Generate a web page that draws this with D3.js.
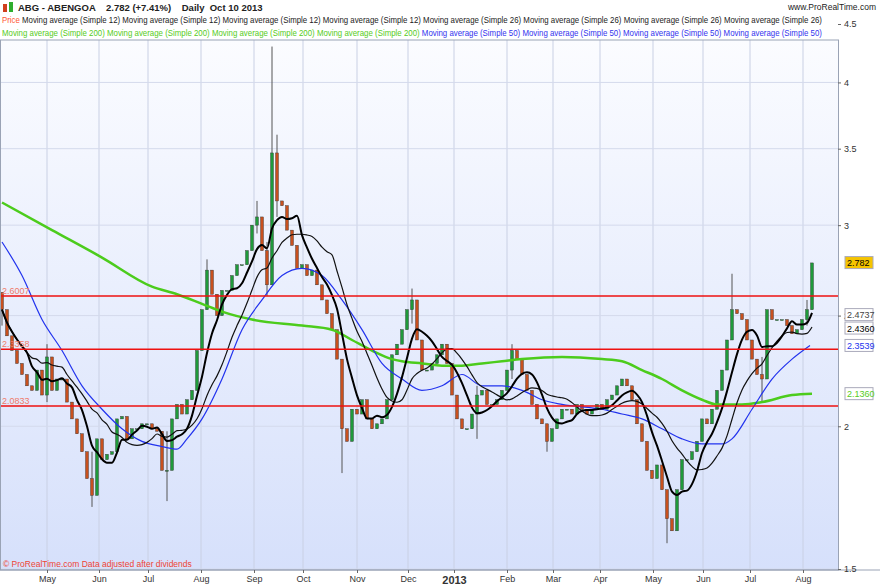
<!DOCTYPE html>
<html><head><meta charset="utf-8">
<script src="https://cdn.jsdelivr.net/npm/d3@7"></script>
<style>body{margin:0;background:#fff;font-family:"Liberation Sans",Arial,sans-serif}</style>
</head><body><svg id="c" width="880" height="587"></svg>
<script>
// closes, one candle every ~2 sessions
const closes = [2.53,2.40,2.33,2.27,2.22,2.17,2.15,2.24,2.13,2.30,2.15,2.20,2.20,2.10,2.03,1.97,1.90,1.80,1.74,1.95,
1.87,1.89,1.90,2.03,2.04,1.95,1.99,1.99,2.01,2.01,1.99,1.98,1.83,1.83,2.03,2.09,2.05,2.11,2.15,2.33,
2.53,2.74,2.61,2.50,2.63,2.63,2.71,2.77,2.77,2.85,3.00,3.05,2.85,2.66,3.47,3.15,3.12,2.97,2.88,2.75,
2.77,2.71,2.74,2.66,2.58,2.51,2.43,2.29,1.99,1.94,2.07,2.05,2.11,2.03,1.99,2.01,2.03,2.11,2.31,2.36,
2.43,2.53,2.58,2.38,2.24,2.24,2.27,2.31,2.36,2.27,2.13,2.03,1.99,1.99,2.05,2.13,2.15,2.09,2.09,2.11,
2.15,2.24,2.33,2.29,2.22,2.15,2.09,2.03,2.01,1.94,1.99,2.03,2.07,2.07,2.05,2.09,2.07,2.05,2.07,2.09,
2.07,2.11,2.13,2.17,2.20,2.17,2.11,2.01,1.94,1.83,1.80,1.85,1.76,1.66,1.62,1.76,1.87,1.87,1.90,1.94,
2.03,2.01,2.07,2.15,2.24,2.38,2.53,2.51,2.48,2.38,2.29,2.22,2.20,2.53,2.48,2.48,2.48,2.45,2.41,2.43,
2.48,2.53,2.78];
const firstOpen = 2.62;
// notable wick extremes [candle, high, low]
const wicks = [[0,2.62,2.45],[9,2.36,2.10],[18,1.90,1.70],[33,1.98,1.72],[41,2.80,2.55],[51,3.15,2.95],
[54,4.30,2.80],[55,3.60,3.05],[53,2.90,2.60],[68,2.05,1.82],[82,2.64,2.46],[95,2.17,1.95],[102,2.36,2.20],
[109,2.01,1.90],[133,1.72,1.58],[146,2.72,2.46],[152,2.30,2.10],[161,2.58,2.45]];
const ma200 = [[0,3.14],[10,2.97],[20,2.81],[30,2.65],[35,2.61],[40,2.56],[44,2.52],[50,2.48],[60,2.45],[66,2.43],
[70,2.38],[74,2.33],[78,2.29],[80,2.28],[84,2.27],[88,2.26],[92,2.26],[96,2.27],[100,2.28],[104,2.29],[112,2.30],
[120,2.29],[124,2.28],[128,2.24],[132,2.20],[136,2.15],[140,2.11],[143,2.09],[148,2.09],[152,2.10],[158,2.13],[162,2.136]];
const ma50 = [[0,2.90],[4,2.71],[8,2.48],[12,2.33],[16,2.17],[20,2.07],[24,1.99],[28,1.94],[32,1.92],[35,1.91],[37,1.95],
[40,2.03],[44,2.20],[48,2.43],[52,2.58],[56,2.71],[60,2.75],[64,2.71],[68,2.58],[72,2.43],[76,2.27],[80,2.20],
[84,2.15],[88,2.17],[92,2.22],[96,2.17],[100,2.17],[104,2.15],[108,2.11],[112,2.09],[120,2.07],[124,2.05],[128,2.03],
[132,1.99],[136,1.95],[140,1.93],[144,1.93],[146,1.95],[150,2.07],[154,2.20],[158,2.29],[161.6,2.354]];
const levels = [2.6007, 2.3358, 2.0833];
const months = [["May",9],["Jun",19.4],["Jul",29.2],["Aug",39.8],["Sep",50.4],["Oct",60.2],["Nov",71],["Dec",81.2],
["2013",90.4],["Feb",101],["Mar",110.2],["Apr",119.6],["May",130.2],["Jun",140.2],["Jul",149.6],["Aug",160.2]];
const yTicks = [1.5,2,2.5,3,3.5,4,4.5];
const tags = [["2.782",2.782,"#f5c400","#000"],["2.4737",2.505,"#fff","#444"],["2.4360",2.438,"#fff","#000"],
["2.3539",2.354,"#fff","#2233ee"],["2.1360",2.136,"#fff","#55cc22"]];

const svg = d3.select("#c");
const W = 838, pTop = 40, pBot = 570;
const x = d3.scaleLinear().domain([0, closes.length - 1]).range([2, 812]);
const y = d3.scaleLog().domain([1.5, 4.5]).range([569, 24]);

const defs = svg.append("defs");
const g = defs.append("linearGradient").attr("id", "bg").attr("x1", 0).attr("x2", 0).attr("y1", 0).attr("y2", 1);
g.append("stop").attr("offset", 0).attr("stop-color", "#fbfcff");
g.append("stop").attr("offset", 1).attr("stop-color", "#d6e0fb");
defs.append("clipPath").attr("id", "cp").append("rect").attr("x", 0).attr("y", pTop).attr("width", W).attr("height", pBot - pTop);

svg.append("rect").attr("x", 0).attr("y", pTop).attr("width", W).attr("height", pBot - pTop).attr("fill", "url(#bg)");

const plot = svg.append("g").attr("clip-path", "url(#cp)");
// grid
plot.selectAll(".vg").data(months).join("line").attr("x1", d => x(d[1])).attr("x2", d => x(d[1]))
  .attr("y1", pTop).attr("y2", pBot).attr("stroke", "#c9d0e4").attr("stroke-width", 1);
plot.selectAll(".hg").data(yTicks).join("line").attr("x1", 0).attr("x2", W).attr("y1", d => y(d)).attr("y2", d => y(d))
  .attr("stroke", "#d4daec");

// candles
const candles = closes.map((c, i) => {
  const o = i ? closes[i - 1] : firstOpen;
  let hi = Math.max(o, c), lo = Math.min(o, c);
  wicks.filter(w => w[0] === i).forEach(w => { hi = Math.max(hi, w[1]); lo = Math.min(lo, w[2]); });
  return {i, o, c, hi, lo};
});
plot.selectAll(".wk").data(candles).join("line").attr("x1", d => x(d.i)).attr("x2", d => x(d.i))
  .attr("y1", d => y(d.hi)).attr("y2", d => y(d.lo)).attr("stroke", "#555").attr("stroke-width", 1);
plot.selectAll(".bd").data(candles).join("rect").attr("x", d => x(d.i) - 1.5).attr("width", 3)
  .attr("y", d => y(Math.max(d.o, d.c))).attr("height", d => Math.max(1, Math.abs(y(d.o) - y(d.c))))
  .attr("fill", d => d.c >= d.o ? "#1f9a3a" : "#c8501e").attr("stroke", "#333").attr("stroke-width", 0.4);

// moving averages
const sma = n => closes.map((c, i) => { const s = closes.slice(Math.max(0, i - n + 1), i + 1); return [i, d3.mean(s)]; });
const line = d3.line().x(d => x(d[0])).y(d => y(d[1])).curve(d3.curveMonotoneX);
plot.append("path").attr("d", line(ma200)).attr("fill", "none").attr("stroke", "#4ccc1c").attr("stroke-width", 2.5);
plot.append("path").attr("d", line(ma50)).attr("fill", "none").attr("stroke", "#2233ee").attr("stroke-width", 1.2);
plot.append("path").attr("d", line(sma(13))).attr("fill", "none").attr("stroke", "#111").attr("stroke-width", 1.2);
plot.append("path").attr("d", line(sma(6))).attr("fill", "none").attr("stroke", "#000").attr("stroke-width", 2);

// support levels
plot.selectAll(".lv").data(levels).join("line").attr("x1", 0).attr("x2", W).attr("y1", d => y(d)).attr("y2", d => y(d))
  .attr("stroke", "#ee1111").attr("stroke-width", 1.5);
plot.selectAll(".lt").data(levels).join("text").attr("x", 2).attr("y", d => y(d) - 2).text(d => d.toFixed(4))
  .attr("font-size", 9).attr("fill", "#f07a6a");

// header
svg.append("rect").attr("x", 0).attr("y", 0).attr("width", 880).attr("height", pTop).attr("fill", "#fff");
svg.append("rect").attr("x", 3).attr("y", 4).attr("width", 4).attr("height", 8).attr("fill", "#d0401e");
svg.append("rect").attr("x", 9).attr("y", 2).attr("width", 4).attr("height", 10).attr("fill", "#2fae2f");
svg.append("text").attr("x", 18).attr("y", 11).attr("font-size", 9.5).attr("font-weight", "bold").attr("fill", "#222")
  .text("ABG - ABENGOA    2.782 (+7.41%)    Daily  Oct 10 2013").style("white-space", "pre");
svg.append("text").attr("x", 876).attr("y", 10).attr("text-anchor", "end").attr("font-size", 8.5).attr("fill", "#222").text("www.ProRealTime.com");
const l1 = svg.append("text").attr("x", 2).attr("y", 23).attr("font-size", 8.4).attr("textLength", 820).attr("lengthAdjust", "spacingAndGlyphs");
l1.append("tspan").attr("fill", "#ff5533").text("Price ");
l1.append("tspan").attr("fill", "#222").text(d3.range(4).map(() => "Moving average (Simple 12)").join(" ") + " " + d3.range(4).map(() => "Moving average (Simple 26)").join(" "));
const l2 = svg.append("text").attr("x", 2).attr("y", 36).attr("font-size", 8.4).attr("textLength", 820).attr("lengthAdjust", "spacingAndGlyphs");
l2.append("tspan").attr("fill", "#55cc22").text(d3.range(4).map(() => "Moving average (Simple 200)").join(" ") + " ");
l2.append("tspan").attr("fill", "#3333ee").text(d3.range(4).map(() => "Moving average (Simple 50)").join(" "));

// frame and axes
svg.append("rect").attr("x", 0.5).attr("y", pTop).attr("width", W).attr("height", pBot - pTop).attr("fill", "none").attr("stroke", "#9aa3b5");
svg.append("line").attr("x1", 0).attr("x2", 880).attr("y1", pBot).attr("y2", pBot).attr("stroke", "#9aa3b5");
const ya = svg.append("g").attr("transform", `translate(${W},0)`)
  .call(d3.axisRight(y).tickValues(yTicks).tickFormat(d3.format("")).tickSize(3));
ya.select(".domain").remove();
ya.selectAll("text").attr("font-size", 9).attr("fill", "#333").attr("font-family", "Liberation Sans");
ya.selectAll("line").attr("stroke", "#666");
const xa = svg.append("g").attr("transform", `translate(0,${pBot})`)
  .call(d3.axisBottom(x).tickValues(months.map(m => m[1])).tickFormat((d, i) => months[i][0]).tickSize(3));
xa.select(".domain").remove();
xa.selectAll("text").attr("fill", "#333").attr("font-family", "Liberation Sans")
  .attr("font-weight", (d, i) => months[i][0] === "2013" ? "bold" : null).attr("font-size", (d, i) => months[i][0] === "2013" ? 11 : 9);
xa.selectAll("line").attr("stroke", "#666");

// price tags
const tg = svg.selectAll(".tg").data(tags).join("g").attr("transform", d => `translate(${W + 7},${y(d[1])})`);
tg.append("rect").attr("x", 0).attr("y", -6).attr("width", 28).attr("height", 12).attr("fill", d => d[2]).attr("stroke", "#aab");
tg.append("text").attr("x", 2).attr("y", 3.5).text(d => d[0]).attr("font-size", 9).attr("fill", d => d[3]);

svg.append("text").attr("x", 3).attr("y", 567).attr("font-size", 8.5).attr("fill", "#ee4433").text("© ProRealTime.com Data adjusted after dividends");
</script></body></html>
